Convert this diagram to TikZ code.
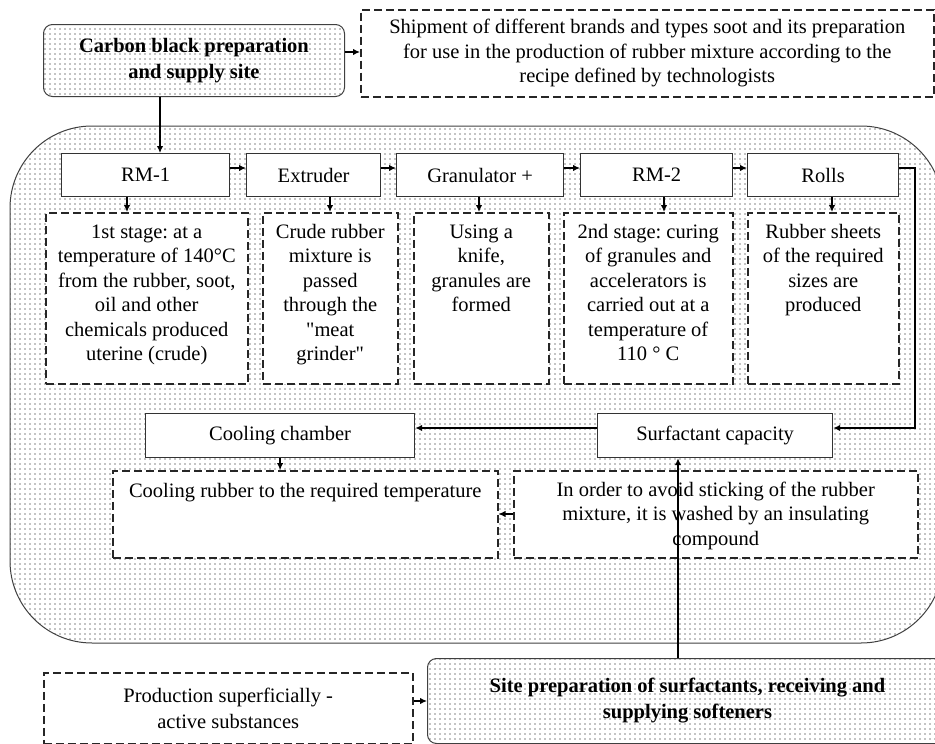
\documentclass[tikz,border=0pt]{standalone}
\usepackage{fontspec}
\setmainfont{Liberation Serif}
\usetikzlibrary{arrows.meta,patterns.meta}
\newcommand{\topbox}[4]{\parbox[c][#2][t]{#1}{\centering\rule{0pt}{#3}#4\par}}
\newcommand{\sq}{\XeTeXglyph\the\XeTeXcharglyph"22\relax}
\frenchspacing
\begin{document}
\begin{tikzpicture}[x=1pt,y=-1pt,
  font=\fontsize{20.5}{24.5}\selectfont,
  dotfill/.style={pattern={Dots[distance=5pt,radius=0.7pt]},pattern color=black},
  solidbox/.style={draw=black!80,line width=1.2pt,fill=white,inner sep=0pt,anchor=north west,align=center},
  dashbox/.style={draw=black!85,line width=1.5pt,dash pattern=on 8pt off 4pt,fill=white,inner sep=0pt,anchor=north west,align=center},
  sitebox/.style={draw=black!75,line width=1pt,rounded corners=9pt,dotfill,inner sep=0pt,anchor=north west,align=center,font=\fontsize{20.5}{26}\selectfont\bfseries},
  arr/.style={line width=1.3pt,-{Latex[length=7pt,width=6.5pt]}},
]
\useasboundingbox (0,0) rectangle (935,744);
\clip (0,0) rectangle (935,744);

% container
\path[draw=black!75,line width=1pt,rounded corners=82pt,dotfill] (10,126) rectangle (943,643);

% top
\node[sitebox,minimum width=301pt,minimum height=72pt] (carbon) at (43,24) {Carbon black preparation\\and supply site};
\node[dashbox,minimum width=573pt,minimum height=87pt] (ship) at (360,9) {Shipment of different brands and types soot and its preparation\\for use in the production of rubber mixture according to the\\recipe defined by technologists};

% row 1
\node[solidbox,minimum width=168pt,minimum height=43pt] (rm1) at (61,153) {RM-1};
\node[solidbox,minimum width=134pt,minimum height=43pt] (ext) at (246,153) {Extruder};
\node[solidbox,minimum width=167pt,minimum height=43pt] (gran) at (396,153) {Granulator +};
\node[solidbox,minimum width=152pt,minimum height=43pt] (rm2) at (580,153) {RM-2};
\node[solidbox,minimum width=151pt,minimum height=43pt] (rolls) at (747,153) {Rolls};

% row 2
\node[dashbox] (d1) at (45,212) {\topbox{202pt}{171pt}{25.5pt}{1st stage: at a\\temperature of 140°C\\from the rubber, soot,\\oil and other\\chemicals produced\\uterine (crude)}};
\node[dashbox] (d2) at (262,212) {\topbox{135pt}{171pt}{25.5pt}{Crude rubber\\mixture is\\passed\\through the\\\sq meat\\grinder\sq}};
\node[dashbox] (d3) at (413,212) {\topbox{135pt}{171pt}{25.5pt}{Using a\\knife,\\granules are\\formed}};
\node[dashbox] (d4) at (563,212) {\topbox{169pt}{171pt}{25.5pt}{2nd stage: curing\\of granules and\\accelerators is\\carried out at a\\temperature of\\110 ° C}};
\node[dashbox] (d5) at (747,212) {\topbox{151pt}{171pt}{25.5pt}{Rubber sheets\\of the required\\sizes are\\produced}};

% row 3
\node[solidbox,minimum width=269pt,minimum height=44pt] (cool) at (145,413) {Cooling chamber};
\node[solidbox,minimum width=235pt,minimum height=44pt] (surf) at (597,413) {Surfactant capacity};

% row 4
\node[dashbox] (crub) at (112,470) {\topbox{385pt}{87pt}{27pt}{Cooling rubber to the required temperature}};
\node[dashbox] (sdesc) at (513,470) {\topbox{404pt}{87pt}{25.5pt}{In order to avoid sticking of the rubber\\mixture, it is washed by an insulating\\compound}};

% bottom
\node[dashbox,minimum width=369pt,minimum height=71pt,font=\fontsize{20.5}{26}\selectfont] (prod) at (43,672) {Production superficially -\\active substances};
\node[sitebox,minimum width=520pt,minimum height=85pt] (site) at (427,658) {Site preparation of surfactants, receiving and\\supplying softeners};

% helper coordinates
\coordinate (yA) at (0,52);
\coordinate (yB) at (0,168);
\coordinate (yC) at (0,428);
\coordinate (yD) at (0,514);
\coordinate (yE) at (0,701);
\coordinate (xA) at (160,0);
\coordinate (x1) at (127,0);
\coordinate (x2) at (330,0);
\coordinate (x3) at (479,0);
\coordinate (x4) at (664,0);
\coordinate (x5) at (832,0);
\coordinate (xR) at (915,0);
\coordinate (xS) at (678,0);

% connectors
\draw[arr] (carbon.east |- yA) -- (ship.west |- yA);
\draw[arr] (carbon.south -| xA) -- (rm1.north -| xA);
\draw[arr] (rm1.east |- yB) -- (ext.west |- yB);
\draw[arr] (ext.east |- yB) -- (gran.west |- yB);
\draw[arr] (gran.east |- yB) -- (rm2.west |- yB);
\draw[arr] (rm2.east |- yB) -- (rolls.west |- yB);
\draw[arr] (rm1.south -| x1) -- (d1.north -| x1);
\draw[arr] (ext.south -| x2) -- (d2.north -| x2);
\draw[arr] (gran.south -| x3) -- (d3.north -| x3);
\draw[arr] (rm2.south -| x4) -- (d4.north -| x4);
\draw[arr] (rolls.south -| x5) -- (d5.north -| x5);
\draw[arr] (rolls.east |- yB) -| (xR |- yC) -- (surf.east |- yC);
\draw[arr] (surf.west |- yC) -- (cool.east |- yC);
\draw[arr] (cool.south) -- (crub.north -| cool.south);
\draw[arr] (sdesc.west |- yD) -- (crub.east |- yD);
\draw[arr] (prod.east |- yE) -- (site.west |- yE);
\draw[arr] (site.north -| xS) -- (surf.south -| xS);
\end{tikzpicture}
\end{document}
